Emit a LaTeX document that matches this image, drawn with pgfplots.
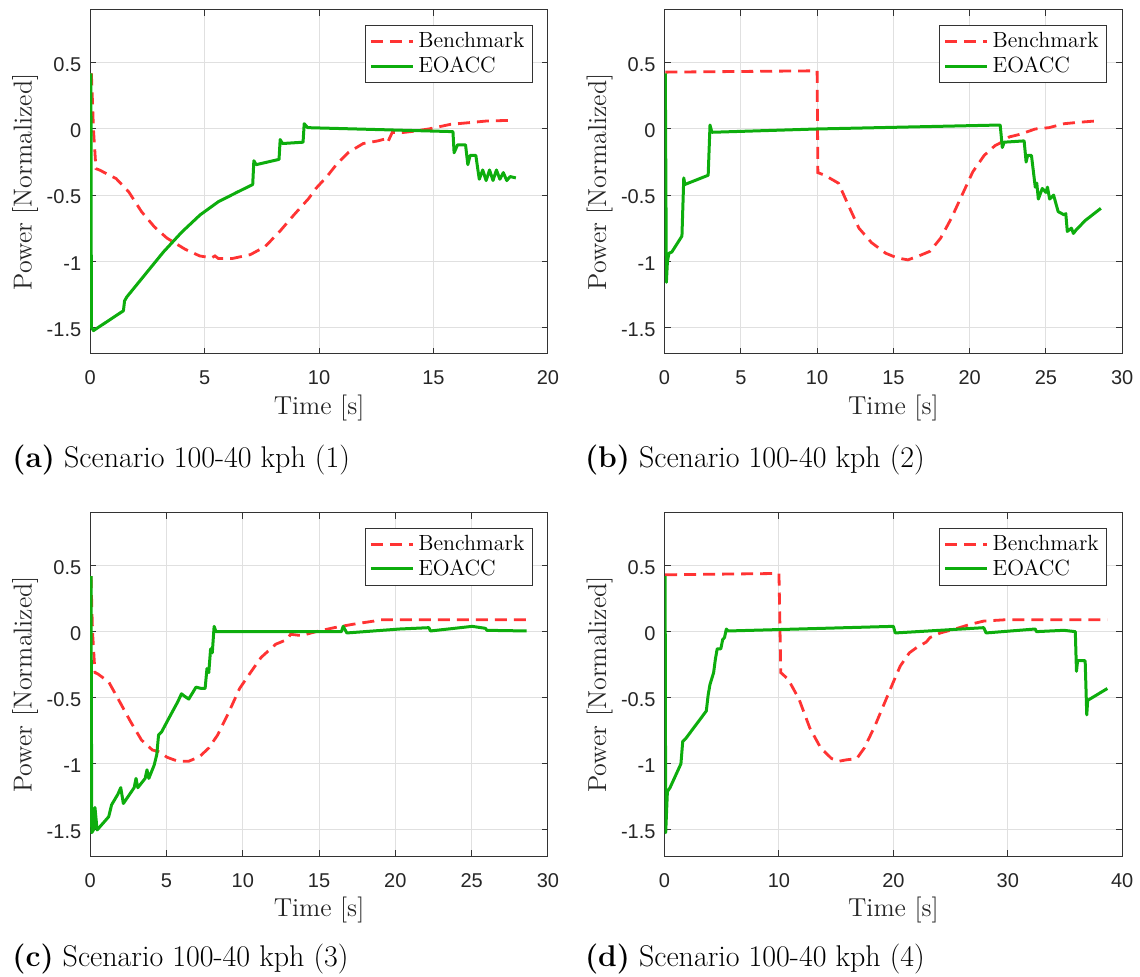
\documentclass[border=0pt]{standalone}
\usepackage{fontspec}
\usepackage{pgfplots}
\pgfplotsset{compat=1.18}
\newfontfamily\ticksf{Liberation Sans}
\definecolor{bred}{rgb}{1,0.2,0.2}
\definecolor{egreen}{rgb}{0.05,0.68,0.05}
\pgfplotsset{myax/.style={
  width=229pt,height=172pt,scale only axis,
  ymin=-1.7,ymax=0.9,
  ytick={-1.5,-1,-0.5,0,0.5},
  yticklabels={-1.5,-1,-0.5,0,0.5},
  grid=major,
  grid style={black!12,line width=0.5pt},
  axis line style={black!80,line width=0.5pt},
  tick style={black!80,line width=0.5pt},
  tick align=inside,
  major tick length=3pt,
  ticklabel style={font=\ticksf\fontsize{10}{12}\selectfont, text=black!85},
  xticklabel style={yshift=-5pt},
  yticklabel style={xshift=-1pt,yshift=-1pt},
  xlabel={Time [s]},
  ylabel={Power [Normalized]},
  label style={font=\fontsize{13}{15}\selectfont, text=black!85},
  xlabel style={at={(axis description cs:0.5,-0.157)},anchor=center},
  ylabel style={at={(axis description cs:-0.142,0.5)},anchor=center},
  legend cell align=left,
  legend style={at={(1,1)},anchor=north east,xshift=-7.5pt,yshift=-7.5pt,
    font=\fontsize{11}{13}\selectfont,draw=black!80,line width=0.5pt,
    inner xsep=2pt,inner ysep=1.5pt,row sep=-1pt},
  legend image code/.code={\draw[##1] (0pt,0pt) -- (21pt,0pt);},
  bench/.style={color=bred,line width=1.4pt,dash pattern=on 6pt off 3.5pt},
  eoacc/.style={color=egreen,line width=1.5pt,line join=round},
}}
\begin{document}
\begin{tikzpicture}
\path (0,0) rectangle (570pt,-488.5pt);
% (a)
\begin{axis}[myax,at={(45.15pt,-5pt)},anchor=north west,
  xmin=0,xmax=20,xtick={0,5,10,15,20},xticklabels={0,5,10,15,20}]
\addplot[bench] coordinates {(0.05,0.42)(0.1,0.2)(0.14,0)(0.25,-0.3)(0.4,-0.31)(1.13,-0.375)(1.68,-0.475)(2.24,-0.625)(2.8,-0.74)(3.35,-0.825)(4.15,-0.91)(4.78,-0.96)(5.3,-0.975)(5.45,-0.96)(5.6,-0.98)(6.2,-0.98)(7,-0.95)(7.64,-0.89)(8.28,-0.775)(8.9,-0.65)(9.55,-0.525)(9.86,-0.45)(10.34,-0.36)(10.8,-0.26)(11.3,-0.175)(11.93,-0.11)(12.57,-0.09)(12.9,-0.075)(13.0,-0.1)(13.2,-0.025)(13.5,-0.03)(14,-0.02)(14.79,0)(15.74,0.035)(16.7,0.05)(17.3,0.06)(18.3,0.065)};
\addlegendentry{Benchmark}
\addplot[eoacc] coordinates {(0.03,0.42)(0.05,-1.5)(0.14,-1.525)(1.45,-1.375)(1.5,-1.3)(1.6,-1.27)(2.4,-1.1)(3.2,-0.93)(4,-0.78)(4.8,-0.65)(5.6,-0.55)(6.4,-0.48)(7.1,-0.42)(7.15,-0.24)(7.25,-0.27)(8.25,-0.23)(8.3,-0.08)(8.4,-0.11)(9.3,-0.1)(9.35,0.04)(9.5,0.01)(15.85,-0.02)(15.9,-0.18)(16.05,-0.12)(16.4,-0.12)(16.5,-0.27)(16.6,-0.2)(16.85,-0.2)(17.0,-0.38)(17.15,-0.31)(17.3,-0.39)(17.45,-0.31)(17.6,-0.39)(17.75,-0.31)(17.9,-0.38)(18.05,-0.33)(18.2,-0.39)(18.35,-0.36)(18.6,-0.37)};
\addlegendentry{EOACC}
\end{axis}
% (b)
\begin{axis}[myax,at={(332.5pt,-5pt)},anchor=north west,
  xmin=0,xmax=30,xtick={0,5,10,15,20,25,30},xticklabels={0,5,10,15,20,25,30}]
\addplot[bench] coordinates {(0.05,0.43)(10,0.44)(10.05,-0.33)(10.5,-0.35)(11.4,-0.41)(12.14,-0.6)(12.74,-0.75)(13.57,-0.86)(14.5,-0.94)(15.24,-0.975)(15.95,-0.99)(16.67,-0.96)(17.4,-0.925)(18.1,-0.825)(18.8,-0.675)(19.5,-0.5)(20.2,-0.325)(20.95,-0.2)(21.67,-0.125)(22.1,-0.1)(22.6,-0.06)(23.3,-0.04)(24.3,0)(25.2,0.01)(26.2,0.04)(27.1,0.05)(28.2,0.06)};
\addlegendentry{Benchmark}
\addplot[eoacc] coordinates {(0.05,0.42)(0.12,-1.16)(0.19,-1.0)(0.29,-0.94)(0.48,-0.93)(1.14,-0.81)(1.26,-0.37)(1.33,-0.42)(2.86,-0.35)(2.98,0.03)(3.1,-0.025)(10,0)(22,0.03)(22.14,-0.14)(22.26,-0.1)(23.57,-0.09)(23.7,-0.25)(23.8,-0.2)(24.05,-0.2)(24.3,-0.44)(24.4,-0.41)(24.5,-0.53)(24.76,-0.45)(25,-0.48)(25.1,-0.44)(25.24,-0.53)(25.5,-0.5)(25.8,-0.625)(26.2,-0.65)(26.3,-0.64)(26.4,-0.775)(26.67,-0.75)(26.8,-0.79)(27.0,-0.76)(27.6,-0.69)(28.6,-0.6)};
\addlegendentry{EOACC}
\end{axis}
% (c)
\begin{axis}[myax,at={(45.15pt,-256.5pt)},anchor=north west,
  xmin=0,xmax=30,xtick={0,5,10,15,20,25,30},xticklabels={0,5,10,15,20,25,30}]
\addplot[bench] coordinates {(0.05,0.42)(0.1,0.2)(0.15,0)(0.31,-0.31)(0.5,-0.32)(1.21,-0.38)(1.93,-0.53)(2.64,-0.68)(3.36,-0.82)(4.07,-0.895)(4.55,-0.91)(5.03,-0.95)(5.74,-0.98)(6.46,-0.98)(7.17,-0.945)(7.77,-0.88)(8.36,-0.78)(9.08,-0.61)(9.79,-0.43)(10.5,-0.31)(11.2,-0.195)(12.16,-0.095)(12.9,-0.06)(13.13,-0.02)(13.84,-0.03)(14.8,0)(15.99,0.03)(17.18,0.055)(18.6,0.08)(18.85,0.09)(20.3,0.09)(28.6,0.09)};
\addlegendentry{Benchmark}
\addplot[eoacc] coordinates {(0.05,0.42)(0.1,-1.52)(0.21,-1.5)(0.31,-1.33)(0.45,-1.5)(1.21,-1.4)(1.4,-1.31)(1.81,-1.23)(2.0,-1.18)(2.17,-1.3)(2.88,-1.18)(3.0,-1.11)(3.12,-1.18)(3.6,-1.11)(3.72,-1.045)(3.84,-1.11)(4.19,-1.01)(4.36,-0.93)(4.48,-0.78)(4.67,-0.76)(5.27,-0.63)(5.74,-0.53)(5.98,-0.47)(6.2,-0.49)(6.46,-0.51)(6.93,-0.42)(7.29,-0.43)(7.53,-0.43)(7.65,-0.28)(7.77,-0.31)(7.89,-0.13)(8.0,-0.16)(8.12,0.04)(8.24,0)(16.46,0)(16.58,0.04)(16.82,-0.01)(20.3,0.02)(22.2,0.03)(22.3,0.005)(25.04,0.04)(25.9,0.025)(26,0.01)(28.6,0.005)};
\addlegendentry{EOACC}
\end{axis}
% (d)
\begin{axis}[myax,at={(332.5pt,-256.5pt)},anchor=north west,
  xmin=0,xmax=40,xtick={0,10,20,30,40},xticklabels={0,10,20,30,40}]
\addplot[bench] coordinates {(0.05,0.43)(10,0.44)(10.16,-0.31)(10.8,-0.36)(11.75,-0.51)(12.7,-0.73)(13.65,-0.88)(14.6,-0.96)(15.24,-0.98)(15.87,-0.97)(16.8,-0.96)(17.46,-0.88)(18.4,-0.71)(19.37,-0.51)(20,-0.38)(20.6,-0.26)(21.4,-0.16)(22.2,-0.11)(22.86,-0.08)(23.2,-0.045)(24.1,-0.01)(25.4,0.02)(26.7,0.055)(27.9,0.08)(29.8,0.09)(38.7,0.09)};
\addlegendentry{Benchmark}
\addplot[eoacc] coordinates {(0.05,0.42)(0.1,-1.52)(0.25,-1.21)(0.48,-1.18)(1.43,-1.0)(1.59,-0.83)(1.84,-0.81)(3.65,-0.6)(3.81,-0.48)(3.97,-0.4)(4.29,-0.31)(4.44,-0.21)(4.6,-0.13)(4.92,-0.13)(5.08,-0.06)(5.24,-0.045)(5.4,0.02)(5.56,0.005)(20,0.04)(20.16,-0.01)(27.9,0.03)(28.1,-0.01)(32.4,0.02)(32.5,0.0)(34.9,0.01)(35.9,0)(36.0,-0.3)(36.1,-0.22)(36.76,-0.22)(36.9,-0.63)(36.98,-0.52)(38.7,-0.43)};
\addlegendentry{EOACC}
\end{axis}
\node[anchor=west,inner sep=0pt,font=\fontsize{15}{18}\selectfont] at (6pt,-230pt) {\textbf{(a)} Scenario 100-40 kph (1)};
\node[anchor=west,inner sep=0pt,font=\fontsize{15}{18}\selectfont] at (292.5pt,-230pt) {\textbf{(b)} Scenario 100-40 kph (2)};
\node[anchor=west,inner sep=0pt,font=\fontsize{15}{18}\selectfont] at (6pt,-480pt) {\textbf{(c)} Scenario 100-40 kph (3)};
\node[anchor=west,inner sep=0pt,font=\fontsize{15}{18}\selectfont] at (292.5pt,-480pt) {\textbf{(d)} Scenario 100-40 kph (4)};
\end{tikzpicture}
\end{document}
